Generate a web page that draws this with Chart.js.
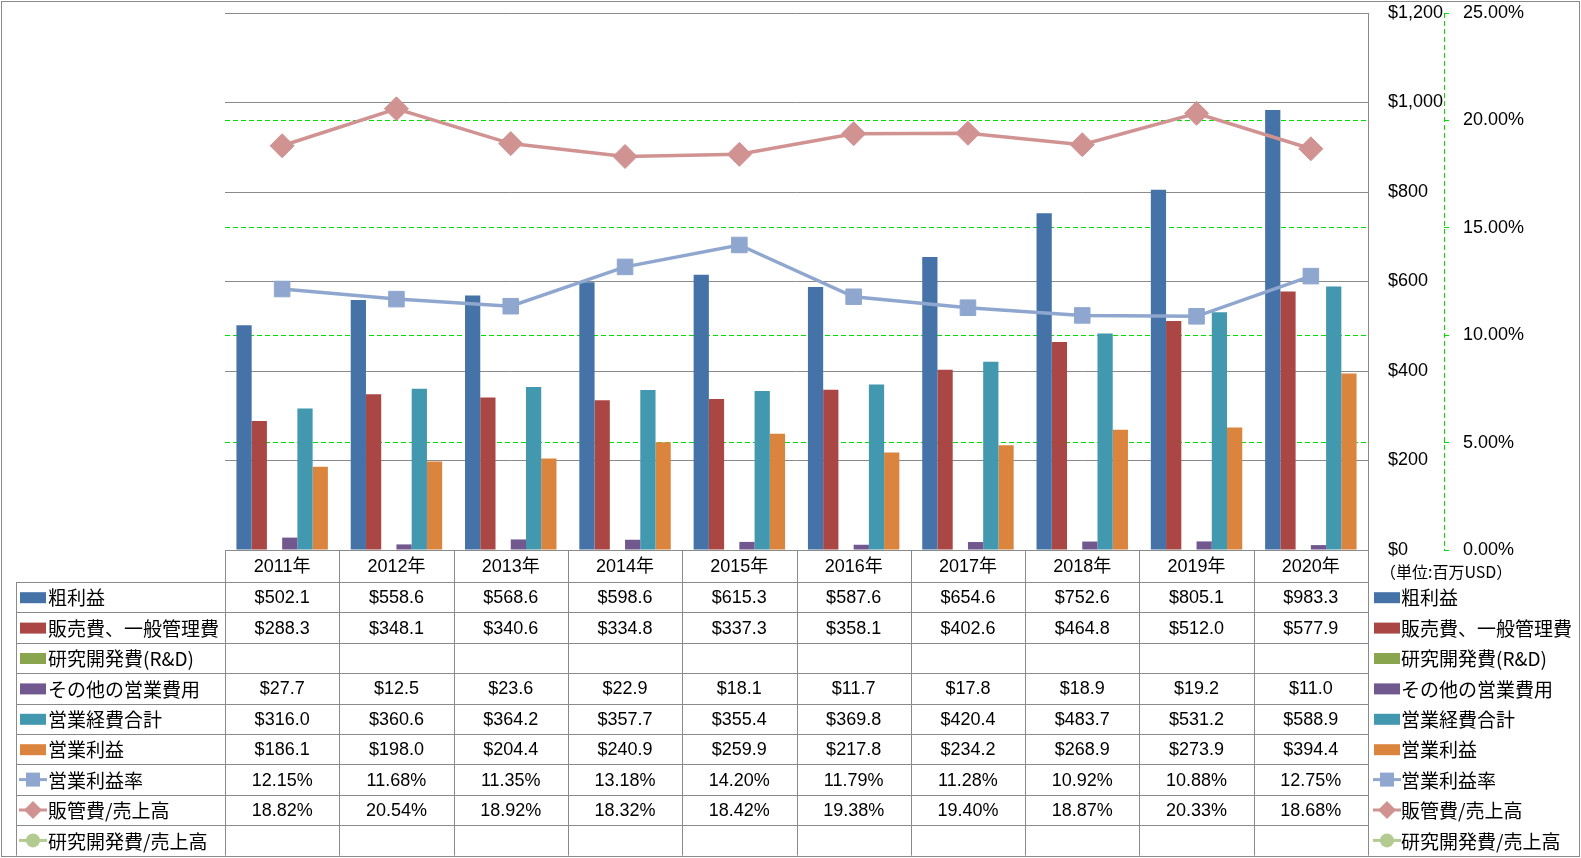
<!DOCTYPE html>
<html>
<head>
<meta charset="utf-8">
<script src="https://cdn.jsdelivr.net/npm/chart.js@4/dist/chart.umd.min.js"></script>
<style>
  body { margin: 0; background: #fff; }
  canvas { display: block; }
</style>
</head>
<body>
<canvas id="finChart" width="1581" height="858"></canvas>
<script>
// categories
const years = ['2011年', '2012年', '2013年', '2014年', '2015年', '2016年', '2017年', '2018年', '2019年', '2020年'];

// bar series (million USD)
const grossProfit = [502.1, 558.6, 568.6, 598.6, 615.3, 587.6, 654.6, 752.6, 805.1, 983.3];
const sgaCost = [288.3, 348.1, 340.6, 334.8, 337.3, 358.1, 402.6, 464.8, 512.0, 577.9];
const rndCost = [null, null, null, null, null, null, null, null, null, null];
const otherCost = [27.7, 12.5, 23.6, 22.9, 18.1, 11.7, 17.8, 18.9, 19.2, 11.0];
const opexTotal = [316.0, 360.6, 364.2, 357.7, 355.4, 369.8, 420.4, 483.7, 531.2, 588.9];
const opIncome = [186.1, 198.0, 204.4, 240.9, 259.9, 217.8, 234.2, 268.9, 273.9, 394.4];

// line series (%)
const opMargin = [12.15, 11.68, 11.35, 13.18, 14.20, 11.79, 11.28, 10.92, 10.88, 12.75];
const sgaRatio = [18.82, 20.54, 18.92, 18.32, 18.42, 19.38, 19.40, 18.87, 20.33, 18.68];
const rndRatio = [null, null, null, null, null, null, null, null, null, null];

// axis ranges
const moneyMax = 1200, moneyStep = 200;
const pctMax = 25, pctStep = 5;

const unitLabel = '（単位:百万USD）';

const FONT = "'Liberation Sans', 'Noto Sans CJK JP', sans-serif";
const JP_FONT = "'Noto Sans CJK JP', sans-serif";
const GRAY = '#8a8a8a';
const GREEN = '#00e000';

const fmtMoney = v => '$' + v.toFixed(1);
const fmtPct = v => v.toFixed(2) + '%';

// draws a small legend key for a dataset
const drawKey = (ctx, ds, x, y) => {
  ctx.save();
  if (ds.type === 'line') {
    ctx.strokeStyle = ds.borderColor;
    ctx.lineWidth = 3;
    ctx.beginPath();
    ctx.moveTo(x, y);
    ctx.lineTo(x + 28, y);
    ctx.stroke();
    ctx.fillStyle = ds.pointBackgroundColor;
    var cx = x + 14;
    ctx.beginPath();
    if (ds.pointStyle === 'rect') {
      ctx.rect(cx - 7, y - 7, 14, 14);
    } else if (ds.pointStyle === 'rectRot') {
      ctx.moveTo(cx, y - 9);
      ctx.lineTo(cx + 9, y);
      ctx.lineTo(cx, y + 9);
      ctx.lineTo(cx - 9, y);
      ctx.closePath();
    } else {
      ctx.arc(cx, y, 7, 0, Math.PI * 2);
    }
    ctx.fill();
  } else {
    ctx.fillStyle = ds.backgroundColor;
    ctx.fillRect(x + 1, y - 5, 26, 11);
  }
  ctx.restore();
}

// white background, data table, side legend, outer frame
const tablePlugin = {
  id: 'dataTable',
  beforeDraw(chart) {
    const ctx = chart.ctx;
    ctx.save();
    ctx.fillStyle = '#fff';
    ctx.fillRect(0, 0, chart.width, chart.height);
    ctx.restore();
  },
  afterDraw(chart) {
    const ctx = chart.ctx;
    const area = chart.chartArea;
    const xs = chart.scales.x;
    const y2 = chart.scales.y2;
    const sets = chart.data.datasets;
    const top = Math.round(area.bottom);
    const headH = 32, rowH = 30.4;
    const legL = 16;
    const bottom = top + headH + rowH * sets.length;
    const colW = (area.right - area.left) / years.length;
    const px = v => Math.round(v) + 0.5;

    ctx.save();

    // dashed secondary axis line
    ctx.strokeStyle = GREEN;
    ctx.lineWidth = 1;
    ctx.setLineDash([5, 3]);
    ctx.beginPath();
    ctx.moveTo(px(y2.left), area.top);
    ctx.lineTo(px(y2.left), area.bottom);
    ctx.stroke();
    ctx.setLineDash([]);

    // table grid
    ctx.strokeStyle = GRAY;
    ctx.beginPath();
    ctx.moveTo(area.left, px(top));
    ctx.lineTo(area.right, px(top));
    for (var r = 0; r <= sets.length; r++) {
      var yy = px(top + headH + r * rowH);
      ctx.moveTo(legL, yy);
      ctx.lineTo(area.right, yy);
    }
    ctx.moveTo(px(legL), top + headH);
    ctx.lineTo(px(legL), bottom);
    for (var i = 0; i <= years.length; i++) {
      var xx = px(area.left + i * colW);
      ctx.moveTo(xx, top);
      ctx.lineTo(xx, bottom);
    }
    ctx.stroke();

    // header
    ctx.fillStyle = '#000';
    ctx.font = '18px ' + FONT;
    ctx.textBaseline = 'middle';
    ctx.textAlign = 'center';
    for (var i = 0; i < years.length; i++) {
      ctx.fillText(years[i], xs.getPixelForValue(i), top + headH / 2 + 1);
    }

    // rows
    for (var r = 0; r < sets.length; r++) {
      var ds = sets[r];
      var cy = top + headH + r * rowH + rowH / 2 + 1;
      ctx.font = '18px ' + FONT;
      ctx.textAlign = 'center';
      for (var i = 0; i < years.length; i++) {
        var v = ds.data[i];
        if (v === null) continue;
        ctx.fillText(ds.type === 'line' ? fmtPct(v) : fmtMoney(v), xs.getPixelForValue(i), cy);
      }
      // left legend column
      ctx.font = '19px ' + JP_FONT;
      drawKey(ctx, ds, legL + 3, cy - 1);
      ctx.textAlign = 'left';
      ctx.fillText(ds.label, legL + 32, cy);
      // right legend
      drawKey(ctx, ds, area.right + 5, cy - 1);
      ctx.fillText(ds.label, area.right + 33, cy);
    }

    // unit note
    ctx.font = '16px ' + JP_FONT;
    ctx.textAlign = 'left';
    ctx.fillText(unitLabel, area.right + 12, top + 22);

    // outer frame
    ctx.strokeStyle = GRAY;
    ctx.strokeRect(1.5, 1.5, chart.width - 3, chart.height - 3);
    ctx.restore();
  }
};

Chart.defaults.font.family = FONT;
Chart.defaults.font.size = 18;
Chart.defaults.color = '#000';

const barSet = (label, data, color) => ({
  type: 'bar',
  label: label,
  data: data,
  backgroundColor: color,
  borderWidth: 0,
  yAxisID: 'y',
  categoryPercentage: 0.8,
  barPercentage: 1.0,
  order: 2
});

const lineSet = (label, data, color, style, radius) => ({
  type: 'line',
  label: label,
  data: data,
  borderColor: color,
  backgroundColor: color,
  pointBackgroundColor: color,
  pointBorderColor: color,
  pointBorderWidth: 1,
  pointStyle: style,
  pointRadius: radius,
  borderWidth: 3.5,
  yAxisID: 'y2',
  order: 1
});

// keep the axis boxes from pushing the plot area down
const fixAxis = (width) => (s) => {
  s.width = width;
  s.paddingTop = 0;
  s.paddingBottom = 0;
};

const config = {
  type: 'bar',
  data: {
    labels: years,
    datasets: [
      barSet('粗利益', grossProfit, '#4572A7'),
      barSet('販売費、一般管理費', sgaCost, '#AA4643'),
      barSet('研究開発費(R&D)', rndCost, '#89A54E'),
      barSet('その他の営業費用', otherCost, '#71588F'),
      barSet('営業経費合計', opexTotal, '#4198AF'),
      barSet('営業利益', opIncome, '#DB843D'),
      lineSet('営業利益率', opMargin, '#8FA7CF', 'rect', 11),
      lineSet('販管費/売上高', sgaRatio, '#D09392', 'rectRot', 12),
      lineSet('研究開発費/売上高', rndRatio, '#B3CB90', 'circle', 8)
    ]
  },
  options: {
    responsive: false,
    animation: false,
    layout: { padding: { left: 225, top: 13, right: 0, bottom: 308 } },
    plugins: {
      legend: { display: false },
      tooltip: { enabled: false }
    },
    scales: {
      x: { display: false, offset: true },
      y: {
        position: 'right',
        weight: 1,
        min: 0,
        max: moneyMax,
        ticks: {
          stepSize: moneyStep,
          padding: 20,
          callback: v => '$' + v.toLocaleString('en-US')
        },
        grid: { color: GRAY, drawTicks: false },
        border: { display: true, color: GRAY },
        afterFit: fixAxis(76)
      },
      y2: {
        position: 'right',
        weight: 2,
        min: 0,
        max: pctMax,
        ticks: {
          stepSize: pctStep,
          padding: 14,
          callback: v => v.toFixed(2) + '%'
        },
        grid: {
          // top and bottom edges keep the gray frame lines
          color: c => (c.tick && (c.tick.value === 0 || c.tick.value === pctMax)) ? 'rgba(0,0,0,0)' : GREEN,
          drawTicks: true,
          tickLength: 5,
          tickColor: GREEN,
          tickBorderDash: [5, 3]
        },
        border: { display: false, dash: [5, 3] },
        afterFit: fixAxis(137)
      }
    }
  },
  plugins: [tablePlugin]
};

new Chart(document.getElementById('finChart'), config);
</script>
</body>
</html>
